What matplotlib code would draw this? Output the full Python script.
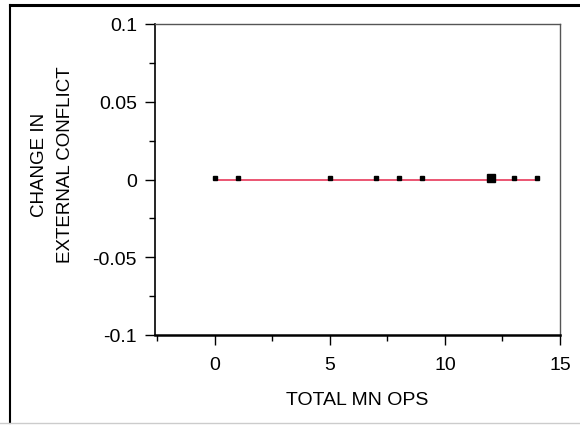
import matplotlib.pyplot as plt
from matplotlib.lines import Line2D
from matplotlib.ticker import MultipleLocator

# 数据：横轴为总运营数，纵轴为外部冲突变化
total_mn_ops = [0, 1, 5, 7, 8, 9, 12, 13, 14]
change_conflict = [0, 0, 0, 0, 0, 0, 0, 0, 0]
marker_sizes = [3, 3, 3, 3, 3, 3, 6, 3, 3]
fit_x = [0, 14]
fit_y = [0, 0]

plt.rcParams['font.family'] = ['Liberation Sans', 'DejaVu Sans']

fig = plt.figure(figsize=(5.8, 4.27), dpi=100)

# 外框：上、左黑线，下方浅灰线
W, H = 580, 427
fig.add_artist(Line2D([10 / W, 1], [1 - 6 / H, 1 - 6 / H], transform=fig.transFigure,
                      color='black', lw=2.2))
fig.add_artist(Line2D([10 / W, 10 / W], [1 - 6 / H, 3 / H], transform=fig.transFigure,
                      color='black', lw=1.5))
fig.add_artist(Line2D([0, 1], [3 / H, 3 / H], transform=fig.transFigure,
                      color='#cccccc', lw=1.0))

ax = fig.add_axes([155 / W, 1 - 336 / H, 405 / W, 311 / H])

ax.plot(fit_x, fit_y, color='#e8385a', lw=1.2, zorder=2)
for x, y, s in zip(total_mn_ops, change_conflict, marker_sizes):
    ax.plot(x, y + 0.0012, marker='s', ms=s, color='black', ls='none', zorder=3)

ax.set_xlim(-2.6, 15)
ax.set_ylim(-0.1, 0.1)
ax.xaxis.set_major_locator(MultipleLocator(5))
ax.xaxis.set_minor_locator(MultipleLocator(2.5))
ax.yaxis.set_minor_locator(MultipleLocator(0.025))
ax.set_yticks([-0.1, -0.05, 0, 0.05, 0.1])
ax.set_yticklabels(['-0.1', '-0.05', '0', '0.05', '0.1'])

for side in ['top', 'right']:
    ax.spines[side].set_color('#555555')
    ax.spines[side].set_linewidth(1.0)
ax.spines['left'].set_linewidth(1.2)
ax.spines['bottom'].set_linewidth(1.8)

ax.tick_params(which='major', direction='out', length=7, width=1, labelsize=14)
ax.tick_params(axis='x', which='major', pad=8)
ax.tick_params(axis='y', which='major', pad=6)
ax.tick_params(which='minor', direction='out', length=4, width=1)

ax.set_xlabel('TOTAL MN OPS', fontsize=14, labelpad=13)
ax.set_ylabel('CHANGE IN\nEXTERNAL CONFLICT', fontsize=13.5, multialignment='center',
              linespacing=1.7)
ax.yaxis.set_label_coords(-0.2, 0.55)

fig.savefig('out.png', dpi=100)
